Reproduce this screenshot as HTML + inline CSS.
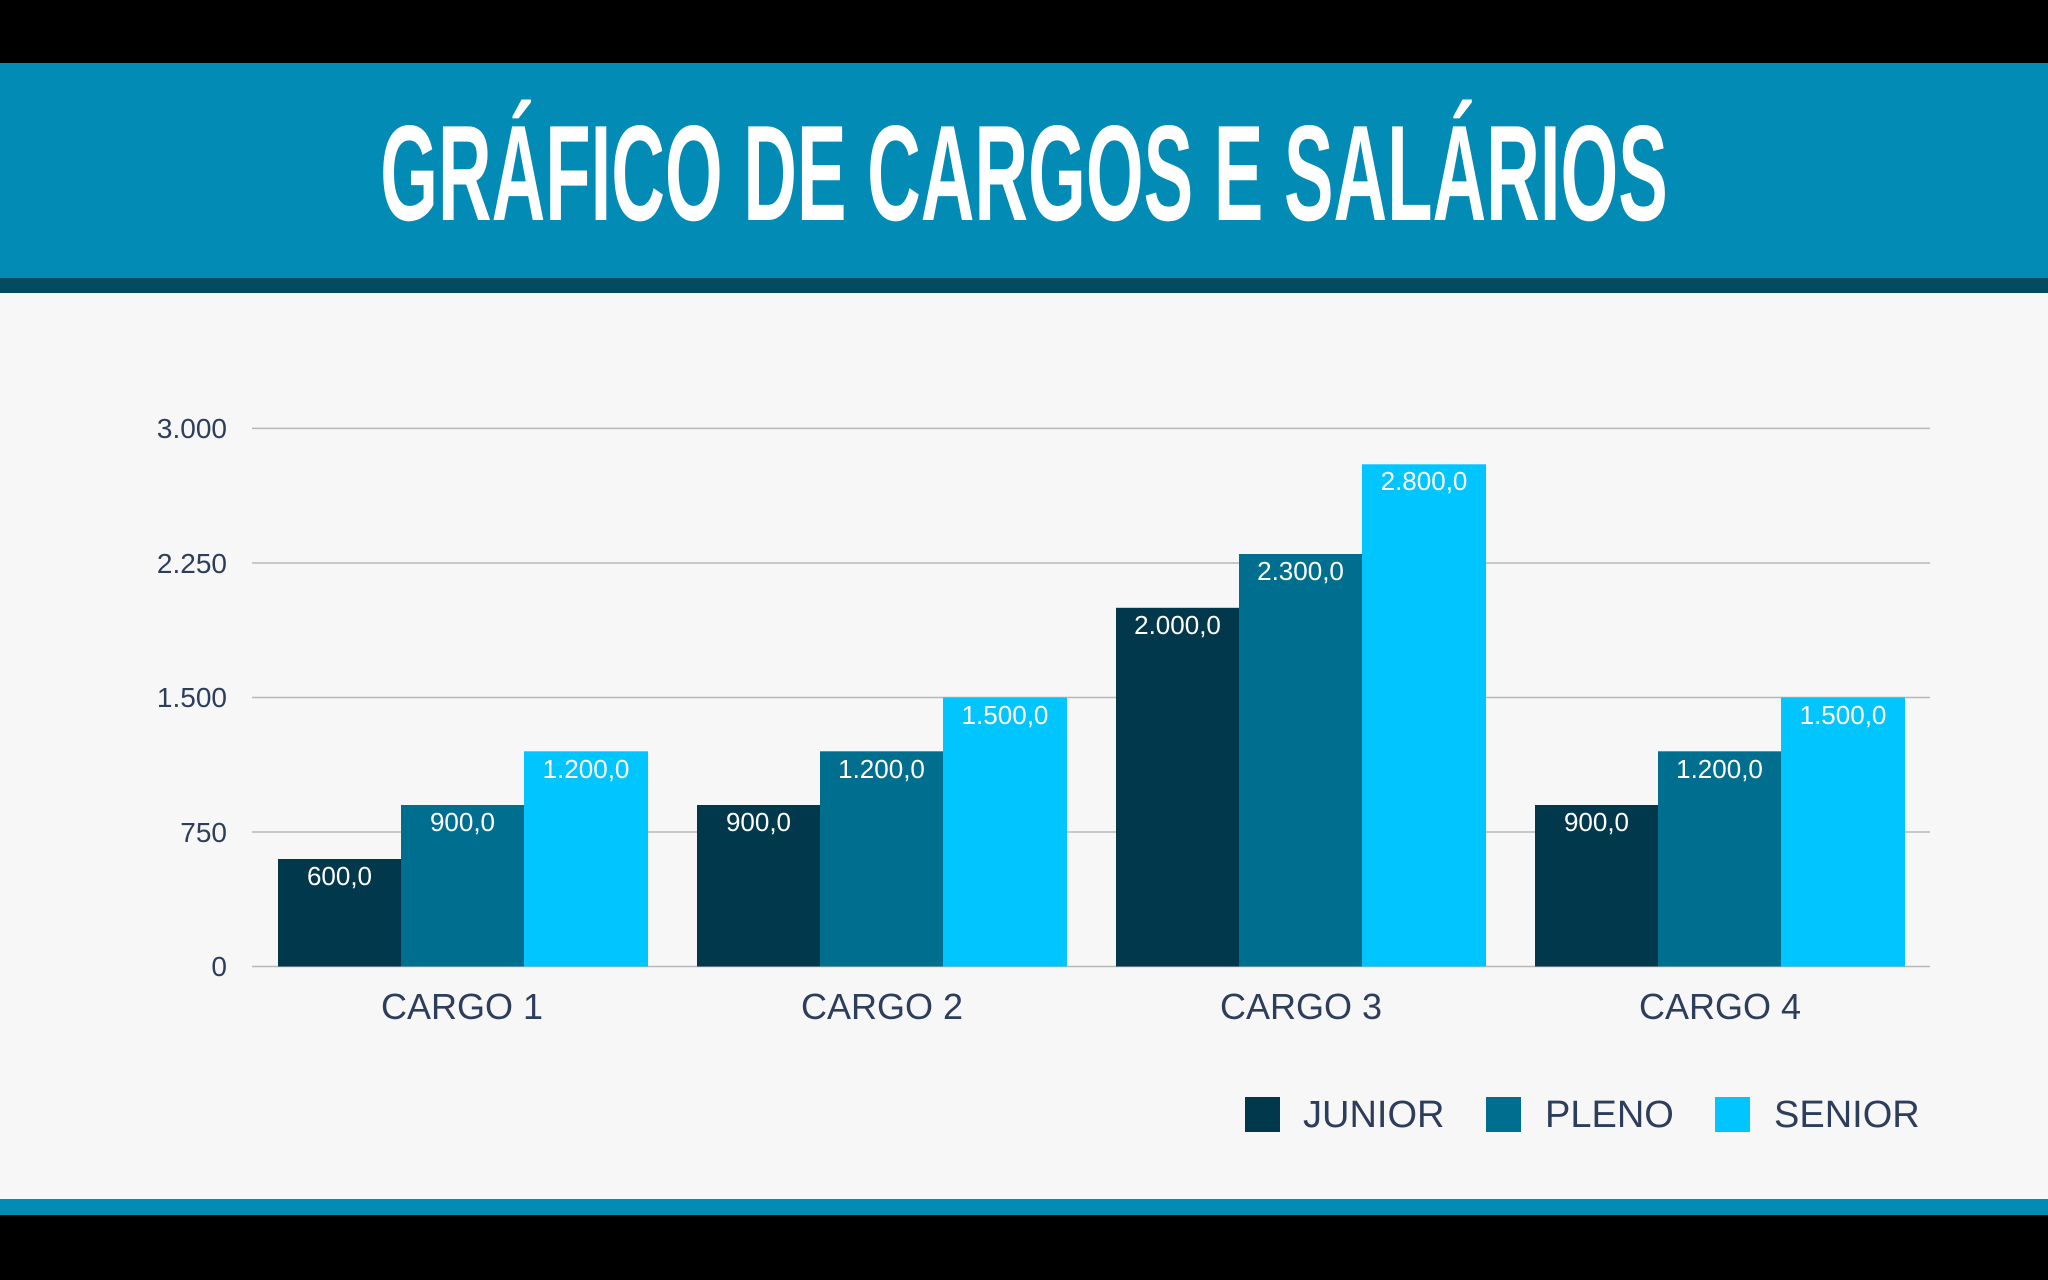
<!DOCTYPE html>
<html><head><meta charset="utf-8"><style>
html,body{margin:0;padding:0;width:2048px;height:1280px;overflow:hidden;background:#000}
</style></head><body>
<svg width="2048" height="1280" viewBox="0 0 2048 1280" xmlns="http://www.w3.org/2000/svg" font-family="'Liberation Sans', 'DejaVu Sans', sans-serif">
<rect x="0" y="0" width="2048" height="1280" fill="#000"/>
<rect x="0" y="63" width="2048" height="216" fill="#028bb5"/>
<rect x="0" y="278" width="2048" height="15" fill="#044a63"/>
<rect x="0" y="293" width="2048" height="906" fill="#f7f7f7"/>
<rect x="0" y="1199" width="2048" height="16" fill="#028bb5"/>
<text x="1024" y="220" text-anchor="middle" font-size="136" font-weight="bold" fill="#fff" transform="translate(1024 0) scale(0.74 1) translate(-1024 0)" textLength="1740" lengthAdjust="spacingAndGlyphs">GRÁFICO DE CARGOS E SALÁRIOS</text>
<g stroke="#b8b8b8" stroke-width="1.5">
<line x1="252" y1="428.4" x2="1930" y2="428.4"/>
<line x1="252" y1="563" x2="1930" y2="563"/>
<line x1="252" y1="697.5" x2="1930" y2="697.5"/>
<line x1="252" y1="832" x2="1930" y2="832"/>
<line x1="252" y1="966.5" x2="1930" y2="966.5"/>
</g>
<g font-size="28" fill="#2d3e5c" text-anchor="end">
<text x="227" y="438">3.000</text>
<text x="227" y="573">2.250</text>
<text x="227" y="707">1.500</text>
<text x="227" y="842">750</text>
<text x="227" y="976">0</text>
</g>
<rect x="278" y="859" width="123.5" height="107.5" fill="#02384b"/>
<rect x="401" y="805" width="123.5" height="161.5" fill="#006f8f"/>
<rect x="524" y="751.3" width="124" height="215.2" fill="#00c5fe"/>
<rect x="697" y="805" width="123.5" height="161.5" fill="#02384b"/>
<rect x="820" y="751.3" width="123.5" height="215.2" fill="#006f8f"/>
<rect x="943" y="697.5" width="124" height="269" fill="#00c5fe"/>
<rect x="1116" y="607.8" width="123.5" height="358.7" fill="#02384b"/>
<rect x="1239" y="554" width="123.5" height="412.5" fill="#006f8f"/>
<rect x="1362" y="464.3" width="124" height="502.2" fill="#00c5fe"/>
<rect x="1535" y="805" width="123.5" height="161.5" fill="#02384b"/>
<rect x="1658" y="751.3" width="123.5" height="215.2" fill="#006f8f"/>
<rect x="1781" y="697.5" width="124" height="269" fill="#00c5fe"/>
<g font-size="26" fill="#fff" text-anchor="middle">
<text x="339.5" y="885">600,0</text>
<text x="462.5" y="831">900,0</text>
<text x="586" y="778">1.200,0</text>
<text x="758.5" y="831">900,0</text>
<text x="881.5" y="778">1.200,0</text>
<text x="1005" y="724">1.500,0</text>
<text x="1177.5" y="634">2.000,0</text>
<text x="1300.5" y="580">2.300,0</text>
<text x="1424" y="490">2.800,0</text>
<text x="1596.5" y="831">900,0</text>
<text x="1719.5" y="778">1.200,0</text>
<text x="1843" y="724">1.500,0</text>
</g>
<g font-size="36" fill="#2d3e5c" text-anchor="middle">
<text x="462" y="1019">CARGO 1</text>
<text x="882" y="1019">CARGO 2</text>
<text x="1301" y="1019">CARGO 3</text>
<text x="1720" y="1019">CARGO 4</text>
</g>
<rect x="1245" y="1097" width="35" height="35" fill="#02384b"/>
<rect x="1486" y="1097" width="35" height="35" fill="#006f8f"/>
<rect x="1715" y="1097" width="35" height="35" fill="#00c5fe"/>
<g font-size="38" fill="#2d3e5c">
<text x="1303" y="1127">JUNIOR</text>
<text x="1545" y="1127">PLENO</text>
<text x="1774" y="1127">SENIOR</text>
</g>
</svg>
</body></html>
